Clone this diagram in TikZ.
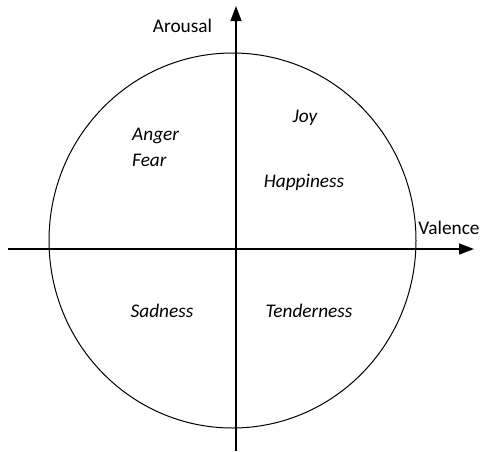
\documentclass[tikz,border=0pt]{standalone}
\usepackage{fontspec}
\setmainfont{Carlito}
\usetikzlibrary{arrows.meta}
\begin{document}
\begin{tikzpicture}[x=1pt,y=-1pt,
  axis/.style={line width=1.4pt,-{Triangle[length=15pt,width=11pt]}},
  emo/.style={font=\fontsize{19.3}{22}\selectfont\itshape,inner sep=0pt},
  lab/.style={font=\fontsize{19.3}{22}\selectfont,inner sep=0pt}]
\useasboundingbox (0,0) rectangle (482,451);
\draw[line width=1pt] (232.5,240.5) ellipse [x radius=183.5, y radius=187.5];
\coordinate (xs) at (8,249);
\coordinate (xe) at (474,249);
\coordinate (ys) at (236,451);
\coordinate (ye) at (236,6);
\draw[axis] (xs) -- (xe);
\draw[axis] (ys) -- (ye);
\node[lab] (arousal) at (182.5,26) {Arousal};
\node[lab] (valence) at (449,228) {Valence};
\node[emo,anchor=west] (anger) at (132,136) {Anger};
\node[emo,anchor=west] (fear) at (132,160) {Fear};
\node[emo] (joy) at (305,118) {Joy};
\node[emo] (happiness) at (304,182) {Happiness};
\node[emo] (sadness) at (162,311) {Sadness};
\node[emo] (tenderness) at (309,311) {Tenderness};
\end{tikzpicture}
\end{document}
